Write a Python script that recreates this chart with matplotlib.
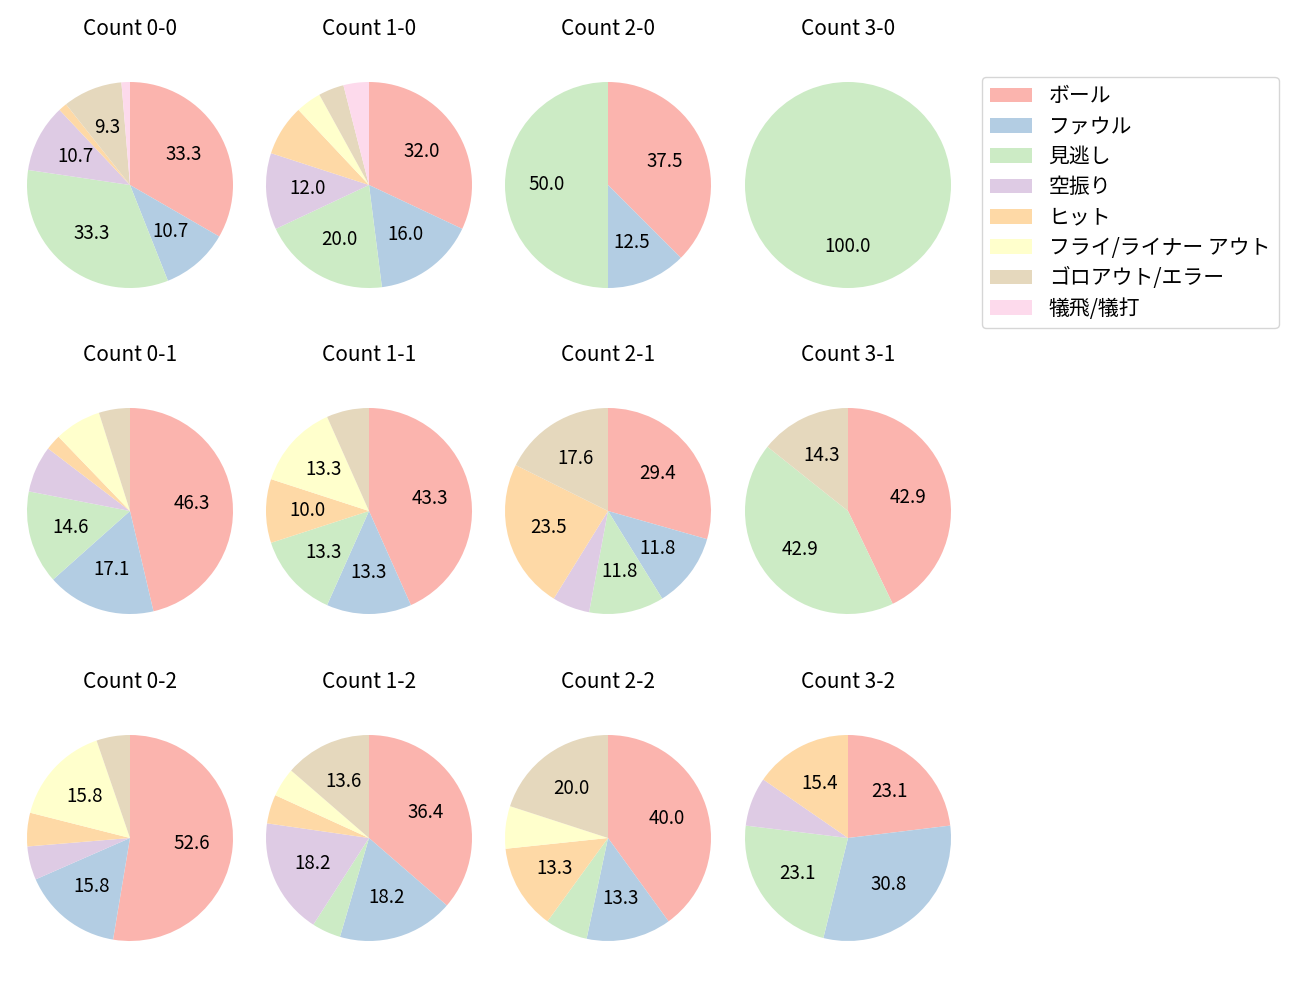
import matplotlib.pyplot as plt

plt.rcParams['font.family'] = ['Noto Sans CJK JP', 'DejaVu Sans']

# 結果カテゴリ
categories = ['ボール', 'ファウル', '見逃し', '空振り', 'ヒット',
              'フライ/ライナー アウト', 'ゴロアウト/エラー', '犠飛/犠打']
colors = ['#fbb4ae', '#b3cde3', '#ccebc5', '#decbe4',
          '#fed9a6', '#ffffcc', '#e5d8bd', '#fddaec']

# カウント別の件数 (ボール-ストライク)
counts = {
    '0-0': [25, 8, 25, 8, 1, 0, 7, 1],
    '1-0': [8, 4, 5, 3, 2, 1, 1, 1],
    '2-0': [3, 1, 4, 0, 0, 0, 0, 0],
    '3-0': [0, 0, 1, 0, 0, 0, 0, 0],
    '0-1': [19, 7, 6, 3, 1, 3, 2, 0],
    '1-1': [13, 4, 4, 0, 3, 4, 2, 0],
    '2-1': [5, 2, 2, 1, 4, 0, 3, 0],
    '3-1': [3, 0, 3, 0, 0, 0, 1, 0],
    '0-2': [10, 3, 0, 1, 1, 3, 1, 0],
    '1-2': [8, 4, 1, 4, 1, 1, 3, 0],
    '2-2': [6, 2, 1, 0, 2, 1, 3, 0],
    '3-2': [3, 4, 3, 1, 2, 0, 0, 0],
}
strikes = [0, 1, 2]
balls = [0, 1, 2, 3]

fig = plt.figure(figsize=(13, 10), dpi=100)

col_x = [130, 369, 608, 848]
row_y = [185, 511, 838]
size = 257.5

wedges_for_legend = None
for r, s in enumerate(strikes):
    for c, b in enumerate(balls):
        key = f'{b}-{s}'
        vals = counts[key]
        ax = fig.add_axes([(col_x[c] - size / 2) / 1300,
                           (1000 - row_y[r] - size / 2) / 1000,
                           size / 1300, size / 1000])
        wedges, _, _ = ax.pie(vals, colors=colors, startangle=90, counterclock=False,
                              autopct=lambda p: f'{p:.1f}' if p >= 9 else '',
                              textprops={'fontsize': 13.5})
        ax.set_title(f'Count {key}', fontsize=15, pad=15)
        if key == '0-0':
            wedges_for_legend = wedges

fig.legend(wedges_for_legend, categories, loc='upper left',
           bbox_to_anchor=(982 / 1300, 1 - 77 / 1000), borderaxespad=0,
           fontsize=15, labelspacing=0.4)

plt.savefig('out.png', dpi=100)
